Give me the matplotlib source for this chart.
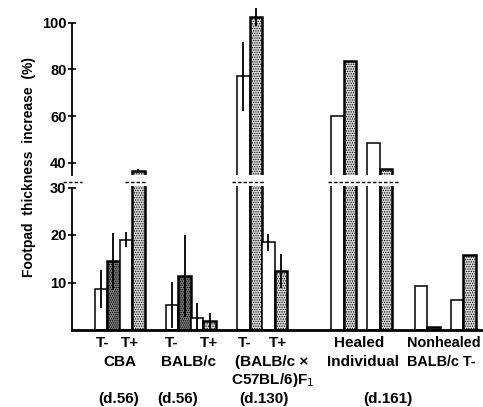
import matplotlib
matplotlib.use("Agg")
import matplotlib.pyplot as plt
import numpy as np
from matplotlib.transforms import blended_transform_factory

plt.rcParams['font.family'] = ['Liberation Sans', 'DejaVu Sans']
plt.rcParams['hatch.linewidth'] = 0.6

# ---- data ----
groups = ["CBA", "BALB/c", "F1", "Healed", "Nonhealed"]
cba_vals = [8.7, 14.5, 19.0, 36.5]
cba_err = [4.0, 6.0, 1.6, 0.8]
balb_vals = [5.3, 11.4, 2.5, 1.9]
balb_err = [4.9, 8.6, 3.2, 1.7]
f1_vals = [77.0, 102.5, 18.5, 12.4]
f1_err = [14.6, 4.0, 1.8, 3.5]
healed_vals = [60.0, 83.5, 48.5, 37.5]
nonhealed_vals = [9.3, 0.6, 6.3, 15.8]

# styles per bar: 'w' white, 'd' dark stipple, 'l' light stipple
cba_style = ['w', 'd', 'w', 'l']
balb_style = ['w', 'd', 'w', 'l']
f1_style = ['w', 'l', 'w', 'l']
healed_style = ['w', 'l', 'w', 'l']
nonhealed_style = ['w', 'd', 'w', 'l']

# ---- layout ----
W, H = 483, 407
fig = plt.figure(figsize=(W / 100, H / 100), dpi=100)
px = 71.3          # pixels per x data unit
left_px = 72
xmin = (left_px - 119.5) / px
xmax = (W - 119.5) / px

low_bot, low_top = 330, 186.0   # pixel rows
low_ylim = (0, (low_bot - low_top) / 4.75)
up_bot, up_top = 174.7, 4.0
up_scale = 2.338
up_ylim = (40 - (up_bot - 163) / up_scale, 40 + (163 - up_top) / up_scale)

ax_low = fig.add_axes([left_px / W, (H - low_bot) / H, 1 - left_px / W, (low_bot - low_top) / H])
ax_up = fig.add_axes([left_px / W, (H - up_bot) / H, 1 - left_px / W, (up_bot - up_top) / H])

bw = 12.5 / px
gap = 11 / px
centers = [0, 1, 2, 3.4, 4.57]
gaps = [0, 0, 0, gap, gap]
all_vals = [cba_vals, balb_vals, f1_vals, healed_vals, nonhealed_vals]
all_err = [cba_err, balb_err, f1_err, None, None]
all_style = [cba_style, balb_style, f1_style, healed_style, nonhealed_style]

def bar_positions(c, g):
    total = 4 * bw + g
    start = c - total / 2 + bw / 2
    return [start, start + bw, start + 2 * bw + g, start + 3 * bw + g]

for ax in (ax_low, ax_up):
    for c, g, vals, errs, sty in zip(centers, gaps, all_vals, all_err, all_style):
        xs = bar_positions(c, g)
        for i, (x, v, s) in enumerate(zip(xs, vals, sty)):
            if s == 'w':
                ax.bar(x, v, width=bw, facecolor='white', edgecolor='black', linewidth=1.1, zorder=2)
            elif s == 'd':
                ax.bar(x, v, width=bw, facecolor='#7a7a7a', edgecolor='black', linewidth=1.8,
                       hatch='........', zorder=2)
            else:
                ax.bar(x, v, width=bw, facecolor='#d8d8d8', edgecolor='black', linewidth=1.8,
                       hatch='.......', zorder=2)
            if errs is not None:
                ax.plot([x, x], [v - errs[i], v + errs[i]], color='black', lw=1.3, zorder=3,
                        solid_capstyle='butt')
    ax.set_xlim(xmin, xmax)
    ax.spines['right'].set_visible(False)
    ax.spines['top'].set_visible(False)
    ax.spines['left'].set_linewidth(1.3)
    ax.tick_params(axis='y', direction='inout', length=6, width=1.2, labelsize=10.5, pad=1)
    ax.set_xticks([])
    ax.patch.set_alpha(0)

ax_low.set_ylim(*low_ylim)
ax_up.set_ylim(*up_ylim)
ax_up.spines['bottom'].set_visible(False)
ax_low.spines['bottom'].set_linewidth(2.0)
ax_low.spines['left'].set_bounds(0, 30)
ax_up.spines['left'].set_bounds(up_ylim[0], 100)
ax_low.set_yticks([10, 20, 30])
ax_up.set_yticks([40, 60, 80, 100])
for ax in (ax_low, ax_up):
    for lab in ax.get_yticklabels():
        lab.set_fontweight('bold')

# break marks
brk_y = (low_bot - 182) / (low_bot - low_top)
tr = blended_transform_factory(ax_low.transData, ax_low.transAxes)
for a, b in [((63 - 119.5) / px, (82 - 119.5) / px),
             ((125 - 119.5) / px, (147 - 119.5) / px),
             ((232 - 119.5) / px, (265 - 119.5) / px),
             ((328 - 119.5) / px, (398 - 119.5) / px)]:
    ax_low.plot([a, b], [brk_y, brk_y], transform=tr, color='black', lw=1.0,
                linestyle=(0, (2.5, 1.5)), clip_on=False)

# y label
fig.text(29 / W, 1 - 167 / H, "Footpad  thickness  increase  (%)", rotation=90,
         ha='center', va='center', fontsize=10, fontweight='bold')

# category labels below axis
fs = 11
def tx(xpx, ypx, s, ha='center', size=fs):
    fig.text(xpx / W, 1 - ypx / H, s, ha=ha, va='center', fontsize=size, fontweight='bold')

for tm, tp in [(103, 130), (172, 209), (245, 278)]:
    tx(tm, 343, "T-")
    tx(tp, 343, "T+")
tx(120, 362, "CBA")
tx(188, 362, "BALB/c")
tx(272, 362, "(BALB/c ×")
tx(273, 380, "C57BL/6)F$_1$")
tx(119, 399, "(d.56)")
tx(178, 399, "(d.56)")
tx(264, 399, "(d.130)")
tx(359, 343, "Healed")
tx(363, 362, "Individual")
tx(407, 343, "Nonhealed", ha='left', size=10.4)
tx(407, 362, "BALB/c T-", ha='left', size=10.4)
tx(388, 399, "(d.161)")

fig.savefig("out.png", dpi=100)
